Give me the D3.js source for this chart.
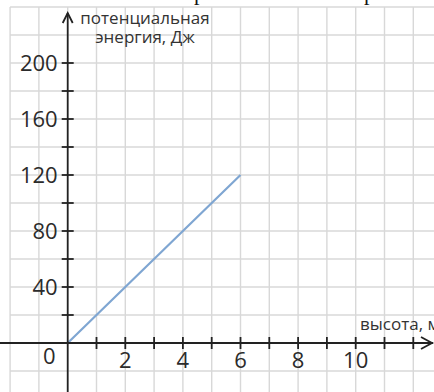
<!DOCTYPE html>
<html>
<head>
<meta charset="utf-8">
<script src="https://cdn.jsdelivr.net/npm/d3@7"></script>
<style>
  body { margin: 0; background: #fff; }
  svg { display: block; }
</style>
</head>
<body>
<div id="chart"></div>
<script>
// data
var heights = [0, 2, 4, 6];
var energies = [0, 40, 80, 120];
var xTickLabels = [2, 4, 6, 8, 10];
var yTickLabels = [40, 80, 120, 160, 200];
var yTitle = ["потенциальная", "энергия, Дж"];
var xTitle = "высота, м";

var w = 434, h = 392;
var x0 = 67.7, y0 = 343;

// scales: 1 m = 28.8 px, 20 J = 28 px
var xScale = d3.scaleLinear().domain([0, 10]).range([x0, x0 + 288]);
var yScale = d3.scaleLinear().domain([0, 200]).range([y0, y0 - 280]);

var svg = d3.select("#chart").append("svg")
    .attr("width", w).attr("height", h);

// cut-off text above the figure
svg.append("g").selectAll("text")
    .data([194, 364])
    .enter().append("text")
    .attr("x", function(d) { return d; })
    .attr("y", -0.5)
    .style("font-family", "Liberation Serif, serif")
    .style("font-size", "22px")
    .attr("fill", "#111")
    .text("р");

// grid
var grid = svg.append("g").attr("stroke", "#d8d8d8").attr("stroke-width", 1.4);
grid.selectAll("line.v")
    .data(d3.range(-2, 13))
    .enter().append("line")
    .attr("x1", function(d) { return xScale(d); })
    .attr("x2", function(d) { return xScale(d); })
    .attr("y1", yScale(240)).attr("y2", h);
grid.selectAll("line.h")
    .data(d3.range(-40, 260, 20))
    .enter().append("line")
    .attr("y1", function(d) { return yScale(d); })
    .attr("y2", function(d) { return yScale(d); })
    .attr("x1", xScale(-2)).attr("x2", w);

// the line
var line = d3.line()
    .x(function(d, i) { return xScale(heights[i]); })
    .y(function(d) { return yScale(d); });
svg.append("path")
    .datum(energies)
    .attr("d", line)
    .attr("fill", "none")
    .attr("stroke", "#7fa6d2")
    .attr("stroke-width", 2.2);

// axes
var axisColor = "#222";
var axes = svg.append("g").attr("stroke", axisColor).attr("stroke-width", 1.8).attr("fill", "none");
axes.append("line").attr("x1", 0).attr("x2", w - 1).attr("y1", y0).attr("y2", y0);
axes.append("line").attr("x1", x0).attr("x2", x0).attr("y1", h).attr("y2", 13);
axes.append("path").attr("d", "M" + (x0 - 5) + ",23 L" + x0 + ",13 L" + (x0 + 5) + ",23");
axes.append("path").attr("d", "M" + (w - 13) + "," + (y0 - 6) + " L" + (w - 2) + "," + y0 + " L" + (w - 13) + "," + (y0 + 6));

// ticks
axes.selectAll("line.xt")
    .data(d3.range(1, 13))
    .enter().append("line")
    .attr("x1", function(d) { return xScale(d); })
    .attr("x2", function(d) { return xScale(d); })
    .attr("y1", y0 - 6).attr("y2", y0 + 6);
axes.selectAll("line.yt")
    .data(d3.range(20, 220, 20))
    .enter().append("line")
    .attr("y1", function(d) { return yScale(d); })
    .attr("y2", function(d) { return yScale(d); })
    .attr("x1", x0 - 6).attr("x2", x0 + 6);

// tick labels
var font = "Open Sans, Noto Sans, sans-serif";
svg.selectAll("text.xl")
    .data(xTickLabels)
    .enter().append("text")
    .attr("x", function(d) { return xScale(d); })
    .attr("y", y0 + 25)
    .attr("text-anchor", "middle")
    .style("font-family", font).style("font-size", "22px")
    .attr("fill", "#2b2b2b")
    .text(function(d) { return d; });
svg.selectAll("text.yl")
    .data(yTickLabels)
    .enter().append("text")
    .attr("x", x0 - 10)
    .attr("y", function(d) { return yScale(d) + 8; })
    .attr("text-anchor", "end")
    .style("font-family", font).style("font-size", "22px")
    .attr("fill", "#2b2b2b")
    .text(function(d) { return d; });
svg.append("text")
    .attr("x", x0 - 12).attr("y", y0 + 21)
    .attr("text-anchor", "end")
    .style("font-family", font).style("font-size", "22px")
    .attr("fill", "#2b2b2b")
    .text("0");

// axis titles
svg.selectAll("text.yt")
    .data(yTitle)
    .enter().append("text")
    .attr("x", 145)
    .attr("y", function(d, i) { return 24 + i * 19; })
    .attr("text-anchor", "middle")
    .style("font-family", font).style("font-size", "17px")
    .attr("fill", "#333")
    .text(function(d) { return d; });
svg.append("text")
    .attr("x", 360).attr("y", y0 - 13)
    .style("font-family", font).style("font-size", "17px")
    .attr("fill", "#333")
    .text(xTitle);
</script>
</body>
</html>
